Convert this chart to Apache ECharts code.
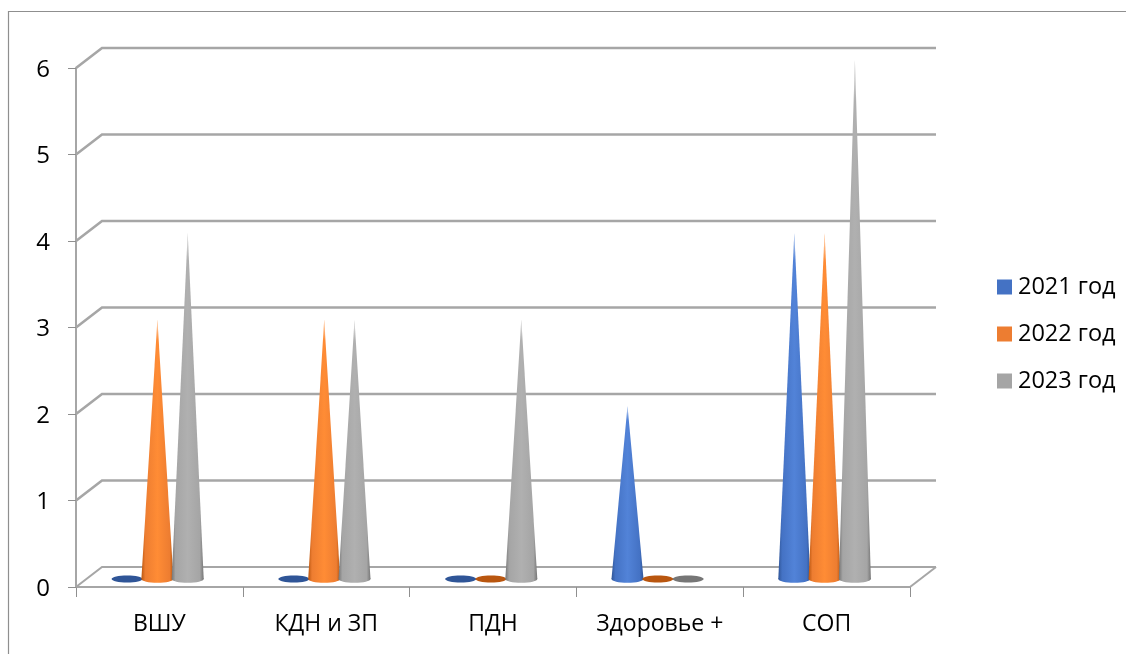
<!DOCTYPE html>
<html><head><meta charset="utf-8">
<style>html,body{margin:0;padding:0;background:#fff}#c{width:1126px;height:654px}</style>
<script src="https://cdn.jsdelivr.net/npm/echarts@6/dist/echarts.min.js"></script>
</head><body><div id="c"></div>
<script>
const categories = ['ВШУ', 'КДН и ЗП', 'ПДН', 'Здоровье +', 'СОП'];
const yTicks = [0, 1, 2, 3, 4, 5, 6];
const seriesNames = ['2021 год', '2022 год', '2023 год'];
const values2021 = [0, 0, 0, 2, 4];
const values2022 = [3, 3, 0, 0, 4];
const values2023 = [4, 3, 3, 0, 6];
const allValues = [values2021, values2022, values2023];
const baseColors = ['#4472c4', '#ed7d31', '#a5a5a5'];
const edgeColors = ['#2f5597', '#b9560f', '#767676'];
const lightColors = ['#5283d8', '#ff8c35', '#b0b0b0'];

const DX = 26, DY = -20, SPACING = 30.3, RX = 16, RY = 3.8, CONE_DX = -2, CONE_DY = -8;
const WALL = '#a6a6a6';

function grad(i) {
  return { type: 'linear', x: 0, y: 0, x2: 1, y2: 0, colorStops: [
    { offset: 0, color: edgeColors[i] }, { offset: 0.12, color: baseColors[i] },
    { offset: 0.5, color: lightColors[i] }, { offset: 0.88, color: baseColors[i] },
    { offset: 1, color: edgeColors[i] } ] };
}
function coneSeries(i) {
  return {
    name: seriesNames[i], type: 'custom', coordinateSystem: 'cartesian2d', clip: false, z: 5,
    itemStyle: { color: baseColors[i] },
    data: allValues[i].map((v, k) => [k, v]),
    encode: { x: 0, y: 1 },
    renderItem(params, api) {
      const k = api.value(0), v = api.value(1);
      const base = api.coord([k, 0]), top = api.coord([k, v]);
      const cx = base[0] + CONE_DX + (i - 1) * SPACING, y0 = base[1] + CONE_DY, yT = top[1] + CONE_DY;
      if (v === 0) {
        return { type: 'ellipse', shape: { cx, cy: y0, rx: RX - 0.5, ry: RY - 0.3 }, style: { fill: edgeColors[i] } };
      }
      const h = y0 - yT;
      return { type: 'group', children: [
        { type: 'ellipse', shape: { cx, cy: y0, rx: RX, ry: RY }, style: { fill: grad(i) } },
        { type: 'polygon', shape: { points: [[cx - RX, y0], [cx, yT], [cx + RX, y0]] }, style: { fill: grad(i) } },
        { type: 'polygon', shape: { points: [[cx - RX * 0.08, yT + h * 0.08], [cx, yT], [cx + RX * 0.08, yT + h * 0.08]] },
          style: { fill: { type: 'linear', x: 0, y: 0, x2: 0, y2: 1, colorStops: [
            { offset: 0, color: 'rgba(255,255,255,0.7)' }, { offset: 1, color: 'rgba(255,255,255,0)' } ] } } }
      ] };
    }
  };
}
const wallSeries = {
  type: 'custom', coordinateSystem: 'cartesian2d', clip: false, z: 1, silent: true,
  data: yTicks.map(v => [0, v]), encode: { x: 0, y: 1 },
  renderItem(params, api) {
    const v = api.value(1), y = api.coord([0, v])[1];
    const x0 = params.coordSys.x, x1 = x0 + params.coordSys.width;
    const children = [{ type: 'polyline',
      shape: { points: [[x0, y], [x0 + DX, y + DY], [x1 + DX, y + DY]] },
      style: { stroke: WALL, lineWidth: v === 0 ? 2 : 2.6, fill: 'none' } }];
    if (v === 0) children.push({ type: 'line', shape: { x1: x1, y1: y, x2: x1 + DX, y2: y + DY },
      style: { stroke: WALL, lineWidth: 2 } });
    return { type: 'group', children };
  }
};
const chart = echarts.init(document.getElementById('c'));
const font = '"Open Sans"';
chart.setOption({
  animation: false,
  backgroundColor: '#fff',
  grid: { left: 76, top: 68, width: 834, height: 519 },
  graphic: [{ type: 'polyline', silent: true, z: 0,
    shape: { points: [[8.5, 654], [8.5, 11.5], [1126, 11.5]] },
    style: { stroke: '#8f8f8f', lineWidth: 1.2, fill: 'none' } }],
  legend: { orient: 'vertical', left: 997, top: 275, padding: 0, itemWidth: 15, itemHeight: 15, itemGap: 23,
    icon: 'rect', data: seriesNames, selectedMode: false,
    textStyle: { fontFamily: font, fontSize: 23.5, color: '#000', padding: [0, 0, 0, 1] } },
  xAxis: { type: 'category', data: categories, boundaryGap: true,
    axisLine: { lineStyle: { color: WALL, width: 2 } },
    axisTick: { show: true, alignWithLabel: false, length: 10, lineStyle: { color: '#8f8f8f', width: 1 } },
    axisLabel: { fontFamily: font, fontSize: 23, color: '#000', margin: 26 } },
  yAxis: { type: 'value', min: 0, max: 6, interval: 1,
    axisLine: { show: true, lineStyle: { color: WALL, width: 2 } },
    axisTick: { show: true, length: 8, lineStyle: { color: '#8f8f8f', width: 1 } },
    splitLine: { show: false },
    axisLabel: { fontFamily: font, fontSize: 24, color: '#000', margin: 26, verticalAlign: 'top', lineHeight: 24, padding: [-10, 0, 0, 0] } },
  series: [wallSeries, coneSeries(0), coneSeries(1), coneSeries(2)]
});
</script></body></html>
